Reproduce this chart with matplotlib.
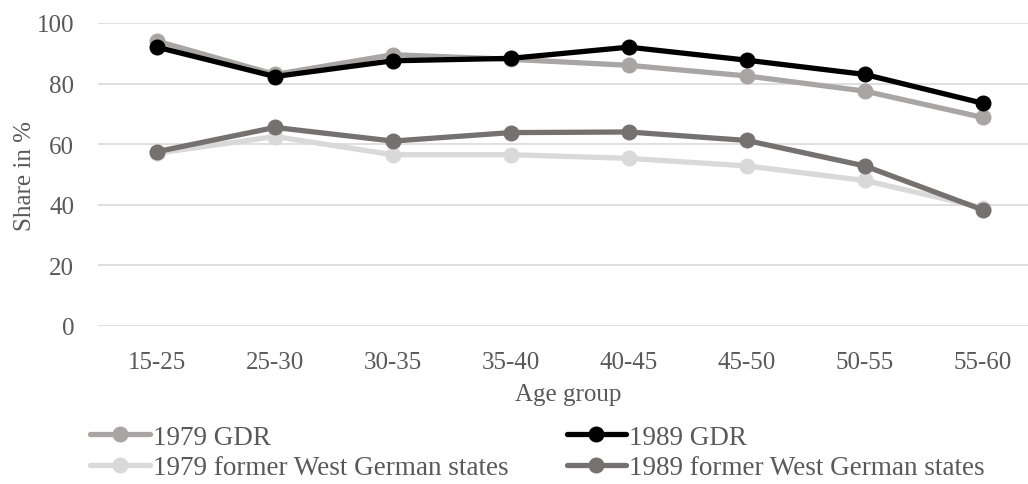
import matplotlib.pyplot as plt
import numpy as np

plt.rcParams['font.family'] = ['Liberation Serif', 'DejaVu Serif']

ages = ['15-25', '25-30', '30-35', '35-40', '40-45', '45-50', '50-55', '55-60']
gdr_1979 = [94, 83, 89.5, 88, 86, 82.5, 77.5, 68.8]
gdr_1989 = [92, 82.3, 87.5, 88.3, 92, 87.7, 83, 73.5]
west_1979 = [57, 62.5, 56.5, 56.5, 55.3, 52.8, 48, 39]
west_1989 = [57.5, 65.5, 61, 63.8, 64, 61.2, 52.8, 38.3]

txt = '#595959'
fig = plt.figure(figsize=(10.28, 4.85), dpi=100)
ax = fig.add_axes([0.0953, 0.326, 0.918, 0.6247])

x = np.arange(len(ages))
kw = dict(lw=3.8, marker='o', ms=10.5, solid_capstyle='round')
l1, = ax.plot(x, gdr_1979, color='#A9A5A4', label='1979 GDR', **kw)
l2, = ax.plot(x, gdr_1989, color='#000000', label='1989 GDR', **kw)
l3, = ax.plot(x, west_1979, color='#D9D9D9', label='1979 former West German states', **kw)
l4, = ax.plot(x, west_1989, color='#767171', label='1989 former West German states', **kw)

ax.set_xlim(-0.5, len(ages) - 0.5)
ax.set_ylim(0, 100)
ax.set_yticks(range(0, 101, 20))
ax.set_xticks(x)
ax.set_xticklabels(ages)
ax.grid(axis='y', color='#D9D9D9', lw=1.2)
ax.set_axisbelow(True)
for s in ax.spines.values():
    s.set_visible(False)
ax.tick_params(length=0, labelsize=18, colors=txt)
ax.tick_params(axis='x', pad=18)
ax.tick_params(axis='y', pad=17)
fig.text(0.5525, 0.186, 'Age group', ha='center', va='center', fontsize=18, color=txt)
fig.text(0.024, 0.637, 'Share in %', rotation=90, ha='center', va='center', fontsize=18, color=txt)

leg = fig.legend(handles=[l1, l3, l2, l4], ncol=2, frameon=False, fontsize=19.5,
                 loc='center left', bbox_to_anchor=(0.088, 0.065), handlelength=2.2,
                 handletextpad=0.1, columnspacing=2.15, labelspacing=0.2,
                 borderaxespad=0, borderpad=0)
for t in leg.get_texts():
    t.set_color(txt)

fig.savefig('out.png', dpi=100)
